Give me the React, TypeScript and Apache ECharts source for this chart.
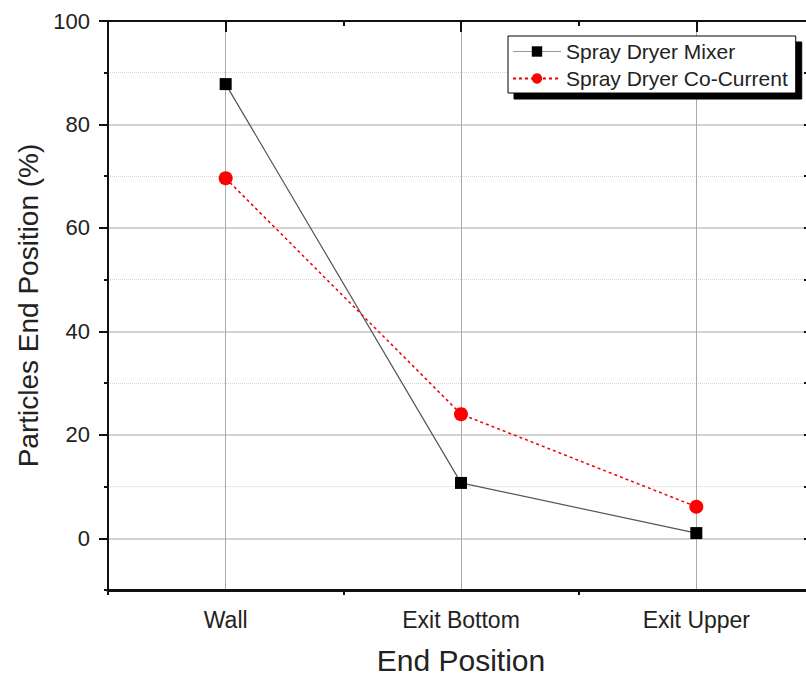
import React, { useEffect, useRef } from "react";
import * as echarts from "echarts";

const categories = ["Wall", "Exit Bottom", "Exit Upper"];
const mixer = [87.8, 10.7, 1.0];
const coCurrent = [69.6, 24.0, 6.1];
const yMajorTicks = [0, 20, 40, 60, 80, 100];
const yMinorTicks = [-10, 10, 30, 50, 70, 90];
const yAllTicks = [-10, 0, 10, 20, 30, 40, 50, 60, 70, 80, 90, 100];
const xMajorTicks = [1, 2, 3];
const xMinorTicks = [0.5, 1.5, 2.5, 3.5];

const FONT = "'Liberation Sans', Arial, sans-serif";
const TEXT = "#222";
const AXIS = "#111";

export default function App() {
  const ref = useRef<HTMLDivElement>(null);
  useEffect(() => {
    if (!ref.current) return;
    const chart = echarts.init(ref.current, null, { renderer: "svg" });
    chart.setOption({
      animation: false,
      backgroundColor: "#fff",
      textStyle: { fontFamily: FONT },
      grid: {
        left: 108,
        top: 21,
        width: 706,
        bottom: 87,
        containLabel: false,
        outerBoundsMode: "none",
      },
      legend: {
        orient: "vertical",
        left: 508,
        top: 36,
        padding: [5, 8, 4, 4],
        itemGap: 6,
        itemWidth: 48,
        itemHeight: 13,
        backgroundColor: "#fff",
        borderColor: "#000",
        borderWidth: 1,
        shadowColor: "#000",
        shadowBlur: 0,
        shadowOffsetX: 6,
        shadowOffsetY: 6,
        textStyle: { fontSize: 21, color: TEXT, fontFamily: FONT },
        data: [
          { name: "Spray Dryer Mixer", lineStyle: { color: "#999", width: 1 } },
          { name: "Spray Dryer Co-Current" },
        ],
      },
      xAxis: [
        {
          type: "category",
          data: categories,
          position: "bottom",
          boundaryGap: true,
          axisLine: { onZero: false, lineStyle: { color: AXIS, width: 3 } },
          axisTick: { alignWithLabel: true, length: 9, lineStyle: { color: AXIS, width: 2 } },
          axisLabel: { fontSize: 23, color: TEXT, margin: 18, fontFamily: FONT },
          splitLine: { show: false },
          name: "End Position",
          nameLocation: "middle",
          nameGap: 55,
          nameTextStyle: { fontSize: 30, color: TEXT, fontFamily: FONT },
        },
        {
          type: "value",
          min: 0.5,
          max: 3.5,
          position: "bottom",
          axisLine: { show: false, onZero: false },
          axisTick: { customValues: xMinorTicks, length: 5, lineStyle: { color: AXIS, width: 2 } },
          axisLabel: { show: false },
          splitLine: { show: false },
        },
        {
          type: "value",
          min: 0.5,
          max: 3.5,
          position: "top",
          axisLine: { show: true, onZero: false, lineStyle: { color: AXIS, width: 2 } },
          axisTick: { customValues: xMajorTicks, inside: true, length: 11, lineStyle: { color: AXIS, width: 2 } },
          axisLabel: { show: false },
          splitLine: { show: true, lineStyle: { color: "#aaa", width: 1 } },
        },
        {
          type: "value",
          min: 0.5,
          max: 3.5,
          position: "top",
          axisLine: { show: false, onZero: false },
          axisTick: { customValues: xMinorTicks, inside: true, length: 5, lineStyle: { color: AXIS, width: 2 } },
          axisLabel: { show: false },
          splitLine: { show: false },
        },
      ],
      yAxis: [
        {
          type: "value",
          min: -10,
          max: 100,
          position: "left",
          axisLine: { show: true, onZero: false, lineStyle: { color: AXIS, width: 2 } },
          axisTick: { customValues: yMajorTicks, length: 9, lineStyle: { color: AXIS, width: 2 } },
          axisLabel: { customValues: yMajorTicks, fontSize: 22, color: TEXT, margin: 18, fontFamily: FONT },
          splitLine: { show: true, lineStyle: { color: "#c4c4c4", width: 1.5 } },
          name: "Particles End Position (%)",
          nameLocation: "middle",
          nameRotate: 90,
          nameGap: 66,
          nameTextStyle: { fontSize: 28, color: TEXT, fontFamily: FONT },
        },
        {
          type: "value",
          min: -10,
          max: 100,
          position: "left",
          axisLine: { show: false, onZero: false },
          axisTick: { customValues: yMinorTicks, length: 4, lineStyle: { color: AXIS, width: 2 } },
          axisLabel: { show: false },
          splitLine: { show: true, lineStyle: { color: "#d4d4d4", width: 1, type: "dotted" } },
        },
        {
          type: "value",
          min: -10,
          max: 100,
          position: "right",
          axisLine: { show: true, onZero: false, lineStyle: { color: AXIS, width: 2 } },
          axisTick: { customValues: yAllTicks, inside: true, length: 10, lineStyle: { color: AXIS, width: 2 } },
          axisLabel: { show: false },
          splitLine: { show: false },
        },
      ],
      series: [
        {
          name: "Spray Dryer Mixer",
          type: "line",
          xAxisIndex: 0,
          yAxisIndex: 0,
          data: mixer,
          symbol: "rect",
          symbolSize: 12,
          itemStyle: { color: "#000" },
          lineStyle: { color: "#555", width: 1.2 },
          z: 3,
        },
        {
          name: "Spray Dryer Co-Current",
          type: "line",
          xAxisIndex: 0,
          yAxisIndex: 0,
          data: coCurrent,
          symbol: "circle",
          symbolSize: 14,
          itemStyle: { color: "#f00" },
          lineStyle: { color: "#e00", width: 1.5, type: [3, 3] },
          z: 4,
        },
      ],
    });
    return () => chart.dispose();
  }, []);
  return (
    <div
      style={{
        position: "fixed",
        left: 0,
        top: 0,
        width: 806,
        height: 677,
        overflow: "hidden",
        background: "#fff",
      }}
    >
      <div ref={ref} style={{ width: 822, height: 677 }} />
    </div>
  );
}
